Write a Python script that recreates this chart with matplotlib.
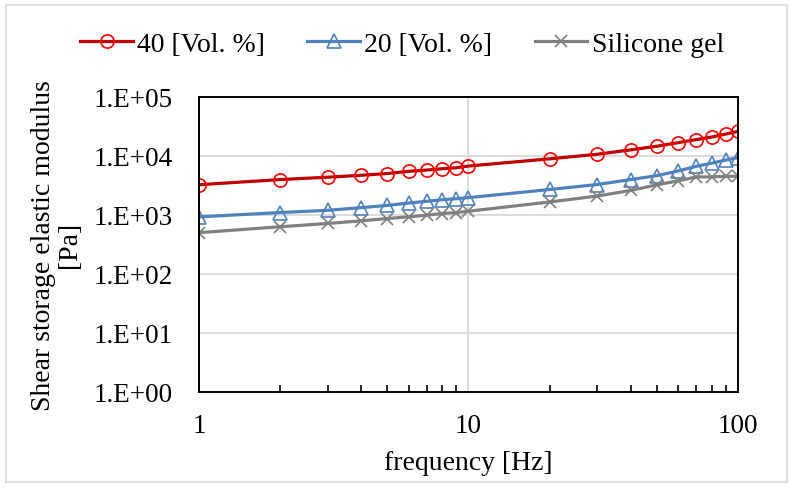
import matplotlib
matplotlib.use("Agg")
import matplotlib.pyplot as plt
from matplotlib.patches import Rectangle
from matplotlib.ticker import LogLocator, NullFormatter, FixedLocator

plt.rcParams['font.family'] = ['Liberation Serif', 'DejaVu Serif']

freq = [1, 2, 3, 4, 5, 6, 7, 8, 9, 10, 20, 30, 40, 50, 60, 70, 80, 90, 100]
g_40 = [3230, 3950, 4330, 4670, 5000, 5450, 5730, 6030, 6270, 6700,
        8870, 10600, 12600, 14500, 16700, 18800, 20800, 23300, 25900]
g_20 = [920, 1090, 1190, 1320, 1440, 1580, 1690, 1800, 1870, 1950,
        2680, 3250, 3950, 4600, 5520, 6610, 7510, 8440, 9330]
g_gel = [497, 626, 711, 789, 863, 922, 982, 1048, 1088, 1148,
         1645, 2073, 2578, 3213, 3750, 4380, 4380, 4490, 4490]

fs = 20
fs_tick = 19.5
fig = plt.figure(figsize=(7.9, 4.89), dpi=100)
ax = fig.add_axes([0.252, 0.197, 0.682, 0.603])

# chart border
fig.patches.append(Rectangle((6 / 790, 6 / 489), 781 / 790, 477 / 489,
                             transform=fig.transFigure, fill=False,
                             edgecolor='#D9D9D9', linewidth=1.2))

ax.plot(freq, g_40, color='#C00000', lw=2.3, marker='o', ms=9.5,
        mfc='none', mec='#FF0000', mew=1.2, label='40 [Vol. %]')
ax.plot(freq, g_20, color='#4F81BD', lw=2.3, marker='^', ms=9.5,
        mfc='none', mec='#4F81BD', mew=1.2, label='20 [Vol. %]')
ax.plot(freq, g_gel, color='#808080', lw=2.3, marker='x', ms=9,
        mfc='none', mec='#7F7F7F', mew=1.2, label='Silicone gel')

ax.set_xscale('log')
ax.set_yscale('log')
ax.set_xlim(1, 100)
ax.set_ylim(1, 1e5)

ax.xaxis.set_major_locator(FixedLocator([1, 10, 100]))
ax.set_xticklabels(['1', '10', '100'])
ax.xaxis.set_minor_locator(LogLocator(base=10, subs=range(2, 10)))
ax.xaxis.set_minor_formatter(NullFormatter())
ax.yaxis.set_major_locator(FixedLocator([1, 10, 100, 1e3, 1e4, 1e5]))
ax.set_yticklabels(['1.E+00', '1.E+01', '1.E+02', '1.E+03', '1.E+04', '1.E+05'])
ax.yaxis.set_minor_locator(FixedLocator([]))

ax.tick_params(axis='x', which='major', length=0, pad=15, labelsize=fs_tick)
ax.tick_params(axis='x', which='minor', direction='in', length=5, width=1.2)
ax.tick_params(axis='y', which='major', length=0, pad=19, labelsize=fs_tick)

ax.grid(True, which='major', color='#D9D9D9', lw=1.3)
ax.set_axisbelow(True)
for s in ax.spines.values():
    s.set_linewidth(1.4)
    s.set_color('black')

ax.set_xlabel('frequency [Hz]', fontsize=fs)
ax.xaxis.set_label_coords(0.5, -0.198)
ax.set_ylabel('Shear storage elastic modulus\n[Pa]', fontsize=fs, linespacing=1.05)
ax.yaxis.set_label_coords(-0.217, 0.5)

fig.legend(loc='center', bbox_to_anchor=(0.509, 1 - 45 / 489), ncol=3,
           frameon=False, fontsize=fs, handlelength=1.9, handletextpad=0.15,
           columnspacing=1.52)

fig.savefig('out.png', dpi=100)
